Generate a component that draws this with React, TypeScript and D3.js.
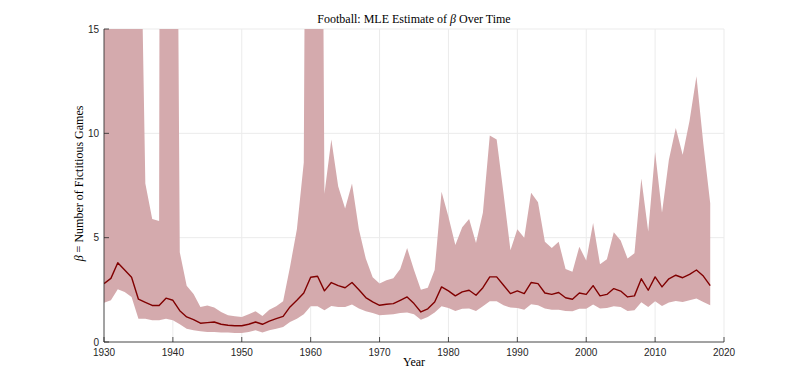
import React from 'react';
import * as d3 from 'd3';

const width = 800;
const height = 384;
const margin = { top: 29, right: 76, bottom: 42, left: 104 };

// seasons 1930..2018
const years = d3.range(1930, 2019);

const upper = [
  32, 35, 40, 38, 30, 27, 7.6, 5.9, 5.8, 200,
  57, 4.3, 2.7, 2.3, 1.68, 1.75, 1.65, 1.44, 1.28, 1.23,
  1.2, 1.33, 1.47, 1.25, 1.55, 1.71, 1.95, 3.6, 5.4, 8.6,
  72, 64, 7.1, 9.7, 7.45, 6.4, 7.6, 5.4, 4.0, 3.1,
  2.8, 2.96, 3.05, 3.5, 4.5, 3.45, 2.5, 2.6, 3.45, 7.2,
  6.0, 4.65, 5.5, 5.9, 4.75, 6.2, 9.9, 9.7, 7.1, 4.4,
  5.4, 5.0, 7.15, 6.7, 4.8, 4.5, 4.8, 3.5, 3.37, 4.57,
  3.9, 5.7, 3.73, 3.96, 5.26, 4.86, 4.0, 4.25, 7.84, 5.3,
  9.1, 6.2, 8.73, 10.26, 8.97, 10.6, 12.74, 9.5, 6.65,
];

const estimate = [
  2.8, 3.05, 3.8, 3.45, 3.1, 2.05, 1.9, 1.75, 1.75, 2.1,
  2.0, 1.5, 1.2, 1.07, 0.9, 0.93, 0.96, 0.85, 0.8, 0.78,
  0.78, 0.85, 0.96, 0.85, 1.0, 1.12, 1.23, 1.68, 2.0, 2.35,
  3.1, 3.15, 2.45, 2.85, 2.7, 2.6, 2.85, 2.5, 2.13, 1.92,
  1.76, 1.81, 1.84, 2.0, 2.16, 1.84, 1.44, 1.59, 1.92, 2.64,
  2.45, 2.21, 2.4, 2.48, 2.24, 2.6, 3.12, 3.12, 2.72, 2.32,
  2.45, 2.32, 2.85, 2.8, 2.35, 2.28, 2.37, 2.12, 2.05, 2.35,
  2.28, 2.7, 2.21, 2.28, 2.56, 2.44, 2.16, 2.21, 3.03, 2.48,
  3.12, 2.64, 3.03, 3.2, 3.08, 3.24, 3.45, 3.16, 2.7,
];

const lower = [
  1.88, 2.0, 2.53, 2.4, 2.16, 1.12, 1.12, 1.04, 1.04, 1.12,
  1.04, 0.85, 0.64, 0.56, 0.51, 0.48, 0.48, 0.45, 0.45, 0.43,
  0.43, 0.48, 0.56, 0.45, 0.56, 0.64, 0.72, 0.96, 1.12, 1.33,
  1.71, 1.71, 1.52, 1.73, 1.68, 1.68, 1.8, 1.6, 1.47, 1.39,
  1.28, 1.31, 1.33, 1.39, 1.41, 1.33, 1.07, 1.2, 1.41, 1.71,
  1.63, 1.49, 1.59, 1.6, 1.49, 1.71, 1.95, 1.95, 1.76, 1.65,
  1.63, 1.55, 1.81, 1.76, 1.6, 1.55, 1.55, 1.49, 1.47, 1.59,
  1.59, 1.8, 1.6, 1.63, 1.71, 1.68, 1.49, 1.52, 1.91, 1.68,
  1.95, 1.73, 1.89, 1.97, 1.92, 2.0, 2.08, 1.92, 1.76,
];

const xTicks = d3.range(1930, 2021, 10);
const yTicks = [0, 5, 10, 15];

const axisColor = '#262626';
const gridColor = '#ebebeb';
const tickFont = '"Liberation Sans", Arial, sans-serif';
const texFont = '"Liberation Serif", "Times New Roman", serif';

export default function App() {
  const x = d3.scaleLinear().domain([1930, 2020]).range([margin.left, width - margin.right]);
  const y = d3.scaleLinear().domain([0, 15]).range([height - margin.bottom, margin.top]);

  const band = d3.area<number>()
    .x((d) => x(years[d]))
    .y0((d) => y(lower[d]))
    .y1((d) => y(upper[d]));

  const line = d3.line<number>()
    .x((d) => x(years[d]))
    .y((d) => y(estimate[d]));

  const idx = d3.range(years.length);
  const x0 = margin.left;
  const x1 = width - margin.right;
  const yBottom = height - margin.bottom;
  const yTop = margin.top;

  return (
    <svg width={width} height={height} style={{ position: 'absolute', left: 0, top: 0, background: '#fff' }}>
      <defs>
        <clipPath id="plotClip">
          <rect x={x0} y={yTop} width={x1 - x0} height={yBottom - yTop} />
        </clipPath>
      </defs>

      {/* grid */}
      {xTicks.map((t) => (
        <line key={'gx' + t} x1={x(t)} x2={x(t)} y1={yTop} y2={yBottom} stroke={gridColor} strokeWidth={1} />
      ))}
      {yTicks.map((t) => (
        <line key={'gy' + t} x1={x0} x2={x1} y1={y(t)} y2={y(t)} stroke={gridColor} strokeWidth={1} />
      ))}

      <g clipPath="url(#plotClip)">
        <path d={band(idx) || ''} fill="#d4aaad" stroke="none" />
        <path d={line(idx) || ''} fill="none" stroke="#800000" strokeWidth={1.4} strokeLinejoin="round" />
      </g>

      {/* axes */}
      <line x1={x0} x2={x1} y1={yBottom} y2={yBottom} stroke={axisColor} strokeWidth={0.8} />
      <line x1={x0} x2={x0} y1={yTop} y2={yBottom} stroke={axisColor} strokeWidth={0.8} />
      {xTicks.map((t) => (
        <g key={'tx' + t}>
          <line x1={x(t)} x2={x(t)} y1={yBottom} y2={yBottom - 5} stroke={axisColor} strokeWidth={0.8} />
          <text x={x(t)} y={yBottom + 14} textAnchor="middle" fontSize={10} fontFamily={tickFont} fill={axisColor}>
            {t}
          </text>
        </g>
      ))}
      {yTicks.map((t) => (
        <g key={'ty' + t}>
          <line x1={x0} x2={x0 + 5} y1={y(t)} y2={y(t)} stroke={axisColor} strokeWidth={0.8} />
          <text x={x0 - 5} y={y(t) + 3.5} textAnchor="end" fontSize={10} fontFamily={tickFont} fill={axisColor}>
            {t}
          </text>
        </g>
      ))}

      {/* labels */}
      <text x={414} y={23} textAnchor="middle" fontSize={12} fontFamily={texFont} fill="#000">
        Football: MLE Estimate of <tspan fontStyle="italic">β</tspan> Over Time
      </text>
      <text x={414} y={366} textAnchor="middle" fontSize={12} fontFamily={texFont} fill="#000">
        Year
      </text>
      <text
        transform={`translate(83, ${(yTop + yBottom) / 2 - 2}) rotate(-90)`}
        textAnchor="middle"
        fontSize={12}
        fontFamily={texFont}
        fill="#000"
      >
        <tspan fontStyle="italic">β</tspan> = Number of Fictitious Games
      </text>
    </svg>
  );
}
